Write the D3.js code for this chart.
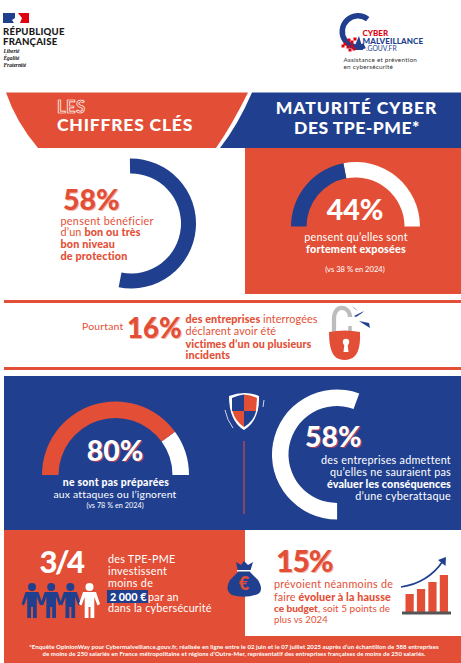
<!DOCTYPE html>
<html lang="fr"><head><meta charset="utf-8">
<script src="https://cdn.jsdelivr.net/npm/d3@7/dist/d3.min.js"></script>
<style>
html,body{margin:0;padding:0;background:#fff;overflow:hidden}
svg{display:block}
text{font-family:Lato,"Open Sans",sans-serif}
</style></head><body><div id="c"></div>
<script>
const RED="#E34F36",BLUE="#213F8F",WHITE="#fff";
const protectionShare=58, exposedShare=44, victimsShare=16, unpreparedShare=80, unableShare=58, budgetRiseShare=15;
const peopleLabels=["TPE-PME 1","TPE-PME 2","TPE-PME 3","autre"];
const peopleInvesting=[1,1,1,0];
const growthBars=[18,23,30,37];
const flagColours=["#213F8F","#fff","#E1000F"];

const W=461,H=663;
const svg=d3.select("#c").append("svg").attr("width",W).attr("height",H).attr("viewBox",`0 0 ${W} ${H}`);
const arc=d3.arc();
const deg=d=>d*Math.PI/180;
const rect=(x,y,w,h,f)=>svg.append("rect").attr("x",x).attr("y",y).attr("width",w).attr("height",h).attr("fill",f);
function line(x,y,parts,opt={}){
  const t=svg.append("text").attr("x",x).attr("y",y).attr("fill",opt.fill||RED)
    .attr("font-size",opt.size||10.5).attr("text-anchor",opt.anchor||"start");
  if(opt.ls) t.attr("letter-spacing",opt.ls);
  if(opt.font) t.style("font-family",opt.font);
  if(opt.italic) t.attr("font-style","italic");
  if(opt.shadow) t.style("text-shadow",opt.shadow);
  (Array.isArray(parts)?parts:[[parts,opt.weight||400]]).forEach(p=>{
    t.append("tspan").attr("font-weight",p[1]).text(p[0]);
  });
  return t;
}
function wedge(cx,cy,r0,r1,a0,a1,f){
  svg.append("path").attr("transform",`translate(${cx},${cy})`).attr("fill",f)
    .attr("d",arc({innerRadius:r0,outerRadius:r1,startAngle:a0,endAngle:a1}));
}
// half gauge: value over the left-to-right half circle
function gauge(cx,cy,r0,r1,value,fFill,fRest){
  const s=d3.scaleLinear().domain([0,100]).range([-Math.PI/2,Math.PI/2]);
  wedge(cx,cy,r0,r1,s(value),s(100),fRest);
  wedge(cx,cy,r0,r1,s(0),s(value),fFill);
}

// ---------- panels
rect(245,150,216,144,RED);
rect(4,300,457,3,RED);
rect(4,367,457,3,RED);
rect(4,376,457,154,BLUE);
rect(4,530,457,133,RED);
rect(245,530,216,106,WHITE);

// ---------- header banner
svg.append("path").attr("fill",RED).attr("d","M6,92.5 L248,92.5 Q232,125 216,148 L38,148 Q16,122 6,92.5 Z");
svg.append("path").attr("fill",BLUE).attr("d","M252,92.5 L461,92.5 L461,148 L220,148 Q238,125 252,92.5 Z");
rect(245,148,216,2.5,RED);
line(57,112.5,"LES",{fill:RED,size:16.5,weight:700,ls:.5}).attr("stroke",WHITE).attr("stroke-width",.7);
line(57,130.5,"CHIFFRES CLÉS",{fill:WHITE,size:17.5,weight:900,ls:.8});
line(356.5,114,"MATURITÉ CYBER",{fill:WHITE,size:17.5,weight:900,anchor:"middle",ls:.9});
line(357,134,"DES TPE-PME*",{fill:WHITE,size:17.5,weight:900,anchor:"middle",ls:.5});

// ---------- République logo
svg.append("path").attr("fill",flagColours[0]).attr("d","M3,13 H15 V18 L12,20 L14,23 H3 Z");
svg.append("path").attr("fill",flagColours[2]).attr("d","M18,13 H29 V23 H20 L22,18 Z");
line(3,34.5,"RÉPUBLIQUE",{fill:"#1a1a1a",size:9.6,weight:900,ls:.2});
line(3,45,"FRANÇAISE",{fill:"#1a1a1a",size:9.6,weight:900,ls:.2});
[["Liberté",53],["Égalité",60],["Fraternité",66.5]].forEach(d=>
  line(3.5,d[1],d[0],{fill:"#111",size:5.4,italic:true,weight:700,font:"'Liberation Serif',serif"}));

// ---------- Cybermalveillance logo
wedge(358,31.5,13,18.5,deg(-205),deg(38),BLUE);
svg.append("path").attr("fill",BLUE).attr("d","M353,50 L359,36 L363,50 Z");
[[345,44],[349,40],[352,42],[348,47],[352,46],[355,39],[350,50],[343,46],[354,49]].forEach(p=>
  svg.append("rect").attr("x",p[0]-1.5).attr("y",p[1]-1.5).attr("width",3).attr("height",3).attr("fill","#E1000F"));
line(362.5,35.5,"CYBER",{fill:"#E1000F",size:8,weight:900});
line(362.5,43.5,"MALVEILLANCE",{fill:BLUE,size:8,weight:900,ls:.1});
line(366,51,".GOUV.FR",{fill:BLUE,size:6.8,weight:400});
line(343.5,62,"Assistance et prévention",{fill:"#333",size:6.4,ls:.2});
line(343.5,69,"en cybersécurité",{fill:"#333",size:6.4,ls:.2});

// ---------- 58 % ring (protection)
const sweepA=d3.scaleLinear().domain([0,100]).range([0,deg(331)]);
wedge(131,223.5,50,65,deg(-1),deg(-1)+sweepA(protectionShare),BLUE);
line(63,210,`${protectionShare}%`,{size:28.5,weight:900,shadow:"1px 1px 0 #f3b5a8"});
line(60.5,224.5,"pensent bénéficier",{size:10.8,ls:.3});
line(60.5,236,[["d’un ",400],["bon ou très",900]],{size:10.8,ls:.15});
line(60.5,248,"bon niveau",{size:10.8,weight:900,ls:.15});
line(60.5,260,"de protection",{size:10.8,weight:900,ls:.15});

// ---------- 44 % gauge
gauge(355.5,226.5,49,64.5,exposedShare,BLUE,WHITE);
line(355,220,`${exposedShare}%`,{fill:WHITE,size:28.5,weight:900,anchor:"middle"});
line(356,241,"pensent qu’elles sont",{fill:WHITE,size:10.8,anchor:"middle",ls:.2});
line(356,253,"fortement exposées",{fill:WHITE,size:10.8,weight:900,anchor:"middle",ls:.2});
line(355,272,"(vs 38 % en 2024)",{fill:WHITE,size:7.6,anchor:"middle"});

// ---------- 16 % strip
line(82,330,"Pourtant",{size:10.4,ls:.2});
line(127,338,`${victimsShare}%`,{size:27.5,weight:900,shadow:"1px 1px 0 #f3b5a8"});
line(185.5,323,[["des entreprises ",900],["interrogées",400]],{size:10.8,ls:.1});
line(185.5,335,"déclarent avoir été",{size:10.8,ls:.15});
line(185.5,347.5,"victimes d’un ou plusieurs",{size:10.8,weight:900,ls:.05});
line(185.5,359,"incidents",{size:10.8,weight:900,ls:.1});
// padlock
svg.append("path").attr("fill","none").attr("stroke","#BDBDBD").attr("stroke-width",4.2)
  .attr("d","M334,336 V319 C334,303 350,306 350,317");
svg.append("path").attr("fill","none").attr("stroke","#BDBDBD").attr("stroke-width",3.6).attr("d","M350,331 V326");
svg.append("path").attr("fill",RED).attr("d","M329,332 Q345,329 360,332 Q361,356 350,359 Q345,361 339,359 Q329,356 329,332 Z");
svg.append("circle").attr("cx",346).attr("cy",342).attr("r",3.2).attr("fill",WHITE);
svg.append("path").attr("fill",WHITE).attr("d","M344.5,343 H347.5 L348.5,352 H343.5 Z");
svg.append("path").attr("fill",BLUE).attr("d","M354,316 L364,311 L362,313 L356,317 Z M359,321 L369,323 L370,328 L362,323 Z M352,306 L358,311 L355,309 Z");

// ---------- 80 % gauge
gauge(115.5,475,57,73.5,unpreparedShare,RED,WHITE);
line(115,461,`${unpreparedShare}%`,{fill:WHITE,size:28.5,weight:900,anchor:"middle",shadow:"1px 1px 0 #a8415a"});
line(116,486,"ne sont pas préparées",{fill:WHITE,size:10.4,weight:900,anchor:"middle",ls:.25});
line(115,498,"aux attaques ou l’ignorent",{fill:WHITE,size:10.4,anchor:"middle",ls:.2});
line(115,507.5,"(vs 78 % en 2024)",{fill:WHITE,size:7.3,anchor:"middle"});

// shield + separator
svg.append("path").attr("fill",WHITE).attr("d","M229,396 Q245,390 259,396 Q260,420 244,430 Q229,421 229,396 Z");
svg.append("path").attr("fill",BLUE).attr("d","M232,398 Q238,395 244,394.5 V411 H232 Z M244,411 H256 Q254,421 244,427 Z");
svg.append("path").attr("fill",RED).attr("d","M244,394.5 Q251,395 257,398 L256,411 H244 Z M244,411 V427 Q235,421 232.5,411 Z");
svg.append("path").attr("fill","none").attr("stroke",WHITE).attr("stroke-width",.8).attr("d","M225,410 Q227,420 233,428 M264,400 L263,407");
svg.append("line").attr("x1",244).attr("x2",244).attr("y1",441).attr("y2",514).attr("stroke","#A0485F").attr("stroke-width",1.6);

// ---------- 58 % ring (white)
const sweepB=d3.scaleLinear().domain([0,100]).range([0,deg(345)]);
wedge(337,454.5,48.5,65,deg(20)-sweepB(unableShare),deg(20),WHITE);
line(305,447,`${unableShare}%`,{fill:WHITE,size:28.5,weight:900,shadow:"1px 1px 0 #a8415a"});
line(451,464,"des entreprises admettent",{fill:WHITE,size:10.8,anchor:"end",ls:.25});
line(451,476,"qu’elles ne sauraient pas",{fill:WHITE,size:10.8,anchor:"end",ls:.25});
line(451,488,"évaluer les conséquences",{fill:WHITE,size:10.8,weight:900,anchor:"end",ls:.1});
line(451,500,"d’une cyberattaque",{fill:WHITE,size:10.8,anchor:"end",ls:.25});

// ---------- 3/4
line(61,572.5,"3/4",{fill:WHITE,size:31,weight:900,anchor:"middle",ls:-2.5});
const px=d3.scalePoint().domain(peopleLabels).range([32,89.5]);
const person=svg.selectAll("g.p").data(peopleLabels).join("g").attr("class","p")
  .attr("transform",d=>`translate(${px(d)},0)`)
  .attr("fill",(d,i)=>peopleInvesting[i]?BLUE:WHITE);
person.append("circle").attr("cx",0).attr("cy",587).attr("r",4);
person.append("path").attr("d","M-6.5,592 H6.5 L10.5,604 L8,605.5 L4.8,597 V618 H1 V607 H-1 V618 H-4.8 V597 L-8,605.5 L-10.5,604 Z");
line(108,563,"des TPE-PME",{fill:WHITE,size:10.8,ls:.25});
line(108,575,"investissent",{fill:WHITE,size:10.8,ls:.3});
line(108,587,"moins de",{fill:WHITE,size:10.8,ls:.3});
rect(107,590,41,13,BLUE);
line(110,600.5,"2 000 €",{fill:WHITE,size:10.8,weight:900});
line(148,600.5,"par an",{fill:WHITE,size:10.8,ls:.25});
line(108,612,"dans la cybersécurité",{fill:WHITE,size:10.8,ls:.2});

// money bag
svg.append("path").attr("fill",BLUE).attr("d","M236,562 L241,565 L244,561 L248,565 L253,562 L250,572 L258,580 Q264,590 258,594 Q245,599 232,595 Q224,590 230,580 L238,572 Z");
svg.append("rect").attr("x",237).attr("y",570).attr("width",14).attr("height",1.5).attr("fill",WHITE);
line(244,590,"€",{fill:RED,size:18,weight:900,anchor:"middle"});

// ---------- 15 %
line(276,572,`${budgetRiseShare}%`,{size:30,weight:900,ls:-1,shadow:"1px 1px 0 #f3b5a8"});
line(274,588,"prévoient néanmoins de",{size:10.8,ls:.25});
line(274,600.5,[["faire ",400],["évoluer à la hausse",900]],{size:10.8,ls:.1});
line(274,612,[["ce budget",900],[", soit 5 points de",400]],{size:10,ls:0});
line(274,623,"plus vs 2024",{size:9.5,ls:.1});

const bx=d3.scaleBand().domain(d3.range(growthBars.length)).range([405.5,448]).paddingInner(.28);
const by=d3.scaleLinear().domain([0,37]).range([612,575]);
svg.selectAll("rect.b").data(growthBars).join("rect").attr("class","b")
  .attr("x",(d,i)=>bx(i)).attr("width",bx.bandwidth()).attr("y",d=>by(d)).attr("height",d=>by(0)-by(d)).attr("fill",RED);
rect(402,611.5,49,3,"#555");
svg.append("path").attr("fill","none").attr("stroke",BLUE).attr("stroke-width",1.7).attr("d","M401,587 Q428,583 443,561");
svg.append("path").attr("fill",BLUE).attr("d","M446,557 L445.5,566 L438,560 Z");

// ---------- footnote
line(234,648.5,"*Enquête OpinionWay pour Cybermalveillance.gouv.fr, réalisée en ligne entre le 02 juin et le 07 juillet 2025 auprès d’un échantillon de 588 entreprises",{fill:WHITE,size:6,weight:700,anchor:"middle",ls:.08});
line(234,656,"de moins de 250 salariés en France métropolitaine et régions d’Outre-Mer, représentatif des entreprises françaises de moins de 250 salariés.",{fill:WHITE,size:6,weight:700,anchor:"middle",ls:.08});
</script></body></html>
